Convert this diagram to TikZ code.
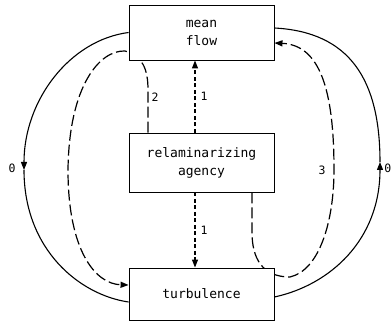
\documentclass[tikz,border=0pt]{standalone}
\usepackage{fontspec}
\newfontfamily\plotfont{DejaVu Sans Mono}
\usetikzlibrary{arrows.meta}
\pgfdeclarelayer{background}
\pgfsetlayers{background,main}
\begin{document}
\begin{tikzpicture}[x=1pt,y=-1pt,
  box/.style={draw,line width=0.9pt,fill=white,minimum width=145pt,inner sep=0pt,align=center,
    font=\plotfont\fontsize{13}{18}\selectfont},
  lbl/.style={inner sep=0pt,font=\plotfont\fontsize{11.5}{12}\selectfont},
  solidline/.style={line width=1.1pt},
  longdash/.style={line width=1.2pt,dash pattern=on 11pt off 4pt},
  shortdash/.style={line width=1.2pt,dash pattern=on 4pt off 2.5pt},
  tip/.style={-{Triangle[length=8pt,width=6pt]}}]
\useasboundingbox (0,0) rectangle (392,321);
\node[box,minimum height=55pt] (mean) at (201.5,32.5) {mean\\flow};
\node[box,minimum height=59pt] (agency) at (201.5,162.5) {relaminarizing\\agency};
\node[box,minimum height=52pt] (turb) at (201.5,294) {turbulence};
\coordinate (c1) at (195,0);
\coordinate (c2) at (148,0);
\coordinate (c3) at (252,0);
\coordinate (L0) at (24,170);
\coordinate (R0) at (380,162);
\node[lbl] (n1a) at (204,96) {1};
\node[lbl] (n1b) at (204,230) {1};
\node[lbl] (n2) at (155,97) {2};
\node[lbl] (n3) at (322,170) {3};
\node[lbl] (n0l) at (12,168) {0};
\node[lbl,anchor=east] (n0r) at (391.5,168) {0};
\begin{pgfonlayer}{background}
\draw[shortdash,tip] (agency.north -| c1) -- (mean.south -| c1);
\draw[shortdash,tip] (agency.south -| c1) -- (turb.north -| c1);
\draw[longdash,tip] (agency.north -| c2) -- (148,90) .. controls (148,68) and (142,56) .. (125,51)
  .. controls (100,50) and (69,85) .. (68,170) .. controls (68,250) and (95,284) .. ([yshift=9pt]turb.west);
\draw[longdash,tip] (agency.south -| c3) -- (252,232) .. controls (252,258) and (262,277) .. (290,277)
  .. controls (320,270) and (334,220) .. (334,170) .. controls (334,90) and (320,45) .. ([yshift=-10.5pt]mean.east);
\draw[solidline,tip] (mean.west) .. controls (70,40) and (24,100) .. (L0);
\draw[solidline] (L0) .. controls (24,250) and (80,295) .. ([yshift=-8pt]turb.west);
\draw[solidline,tip] ([yshift=-3pt]turb.east) .. controls (330,285) and (380,240) .. (R0);
\draw[solidline] (R0) .. controls (380,80) and (350,32) .. ([yshift=4.5pt]mean.east);
\end{pgfonlayer}
\end{tikzpicture}
\end{document}
